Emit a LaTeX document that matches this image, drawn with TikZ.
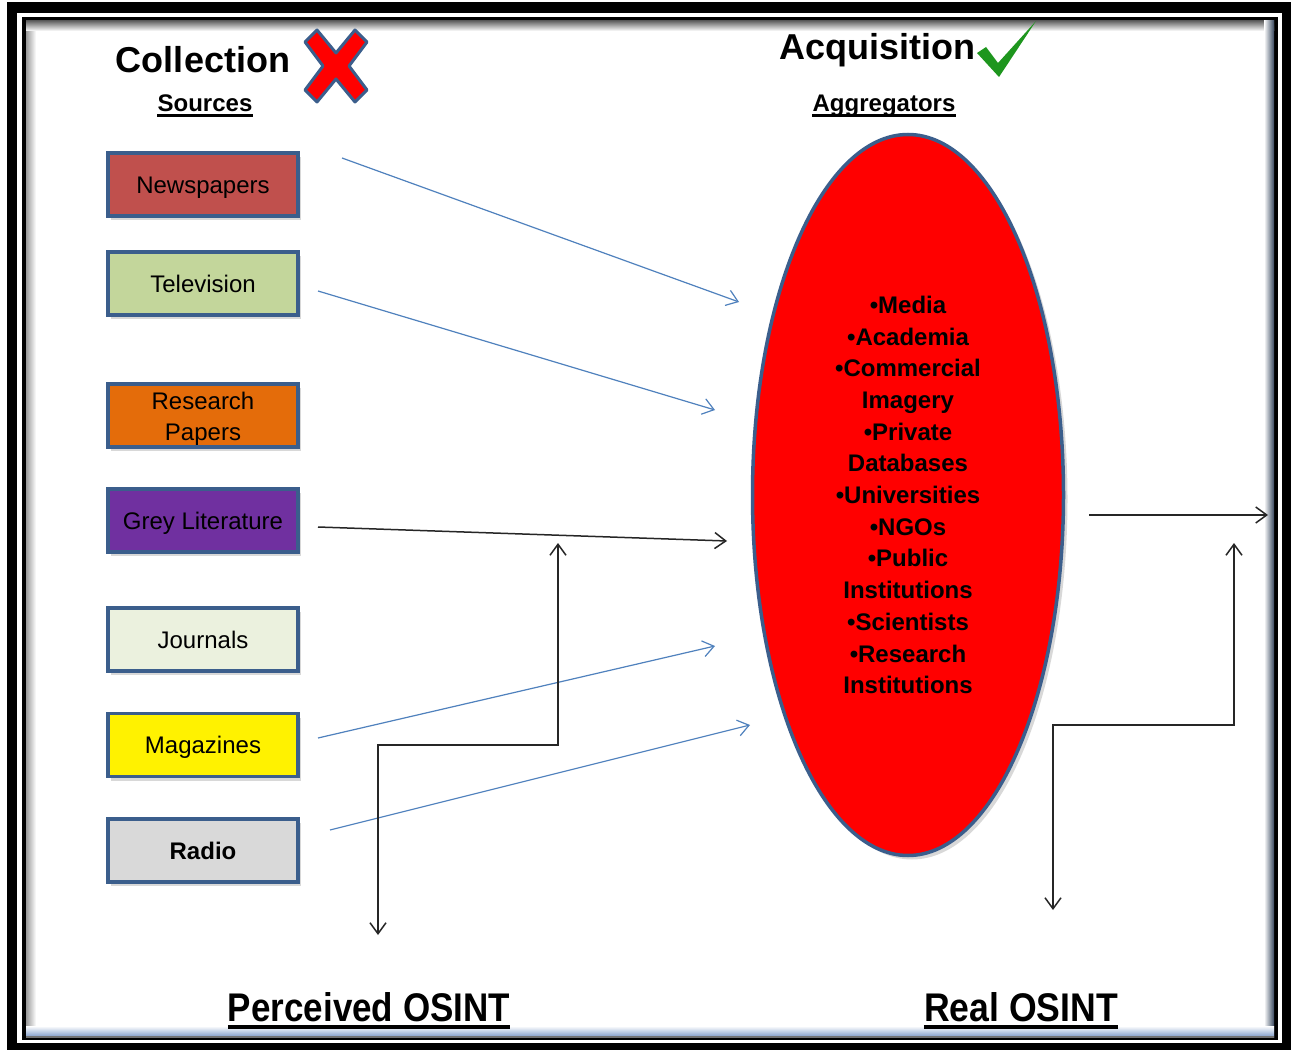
\documentclass[tikz,border=0pt]{standalone}
\usepackage{fontspec}
\setmainfont{Liberation Sans}
\usetikzlibrary{shapes.geometric,shadows,arrows.meta}

\definecolor{edgeblue}{RGB}{59,94,140}
\definecolor{flowblue}{RGB}{79,129,189}
\definecolor{newsred}{RGB}{192,80,77}
\definecolor{tvgreen}{RGB}{195,214,155}
\definecolor{paperorange}{RGB}{228,108,10}
\definecolor{greypurple}{RGB}{112,48,160}
\definecolor{journalcream}{RGB}{235,241,222}
\definecolor{radiogrey}{RGB}{217,217,217}
\definecolor{tickgreen}{RGB}{30,150,30}
\definecolor{rimslate}{RGB}{58,74,96}
\definecolor{rimblue}{RGB}{126,155,200}

\tikzset{
  srcbox/.style={draw=edgeblue, line width=3.5pt, minimum width=190pt,
    minimum height=63pt, inner sep=0pt, align=center,
    font=\fontsize{24}{31}\selectfont, text height=17.4pt, text depth=0pt,
    drop shadow={shadow xshift=3pt, shadow yshift=-4pt, opacity=0.3}},
  heading/.style={font=\bfseries\fontsize{36}{40}\selectfont, anchor=base, inner sep=0pt},
  subhead/.style={font=\bfseries\fontsize{24}{28}\selectfont, anchor=base, inner sep=0pt},
  footlabel/.style={font=\bfseries\fontsize{40}{44}\selectfont, anchor=base, inner sep=0pt},
  >={Straight Barb[length=11pt, width=16pt]},
  blueflow/.style={draw=flowblue, line width=1.2pt, ->},
  blackflow/.style={draw=black!85, line width=1.5pt, ->},
  twoway/.style={draw=black!85, line width=1.5pt, <->},
}

\begin{document}
\begin{tikzpicture}[x=1pt, y=-1pt]
\useasboundingbox (0,0) rectangle (1291,1051);

% framed page
\fill[black] (7,2) rectangle (1291,1050);
\fill[white] (17,13) rectangle (1282,1043);
\fill[black] (22,17) rectangle (1278,1040);
\fill[white] (26,21) rectangle (1274,1037);
\shade[left color=black!40, right color=white] (26,21) rectangle (36,1037);
\shade[top color=black!60, bottom color=white] (26,21) rectangle (1274,31);
\shade[left color=white, right color=rimslate] (1264,21) rectangle (1274,1037);
\shade[top color=white, bottom color=rimblue] (26,1026) rectangle (1274,1037);
\fill[black!55] (26,1036) rectangle (1274,1037.5);

% headings
\node[heading] (coll) at (203,73) {Collection};
\node[subhead] (srcs) at (205,112) {Sources};
\draw[line width=2.5pt] ([yshift=-3.5pt]srcs.base west) -- ([yshift=-3.5pt]srcs.base east);

\node[heading] (acq) at (877,60) {Acquisition};
\node[subhead] (aggr) at (884,112) {Aggregators};
\draw[line width=2.5pt] ([yshift=-3.5pt]aggr.base west) -- ([yshift=-3.5pt]aggr.base east);

% red cross
\filldraw[fill=red, draw=edgeblue, line width=3pt, line join=round, shift={(336,66)}]
  (-31,-24) -- (-19,-36) -- (0,-13) -- (19,-36) -- (31,-24) -- (13,0)
  -- (31,24) -- (19,36) -- (0,13) -- (-19,36) -- (-31,24) -- (-13,0) -- cycle;

% green tick
\fill[tickgreen] (977,53) -- (986,47) -- (998,63) -- (1036,21) -- (999,77) -- cycle;

% sources
\node[srcbox, fill=newsred] (news) at (203,184.5) {Newspapers};
\node[srcbox, fill=tvgreen] (tv) at (203,283.5) {Television};
\node[srcbox, fill=paperorange, text height=50.2pt, text depth=0pt] (papers) at (203,415.5) {Research\\Papers};
\node[srcbox, fill=greypurple] (grey) at (203,520.5) {Grey Literature};
\node[srcbox, fill=journalcream] (journals) at (203,639.5) {Journals};
\node[srcbox, fill=yellow] (mags) at (203,745) {Magazines};
\node[srcbox, fill=radiogrey, font=\bfseries\fontsize{24}{31}\selectfont] (radio) at (203,850.5) {Radio};

% aggregators
\node[ellipse, draw=edgeblue, line width=3.5pt, fill=red, minimum width=311pt,
  minimum height=721pt, inner sep=0pt, align=center,
  font=\bfseries\fontsize{24}{31.7}\selectfont,
  drop shadow={shadow xshift=4pt, shadow yshift=-4pt, opacity=0.3}] (agg) at (908,495)
  {\textbullet Media\\\textbullet Academia\\\textbullet Commercial\\Imagery\\\textbullet Private\\Databases\\\textbullet Universities\\\textbullet NGOs\\\textbullet Public\\Institutions\\\textbullet Scientists\\\textbullet Research\\Institutions};

% flow ends
\coordinate (newsA) at (342,158);   \coordinate (newsB) at (739,302);
\coordinate (tvA) at (318,291);     \coordinate (tvB) at (715,410);
\coordinate (greyA) at (318,527);   \coordinate (greyB) at (727,541);
\coordinate (magsA) at (318,738);   \coordinate (magsB) at (715,646);
\coordinate (radioA) at (330,830);  \coordinate (radioB) at (750,725);

\draw[blueflow] (newsA) -- (newsB);
\draw[blueflow] (tvA) -- (tvB);
\draw[blackflow] (greyA) -- (greyB);
\draw[blueflow] (magsA) -- (magsB);
\draw[blueflow] (radioA) -- (radioB);

% perceived path
\coordinate (perUp) at (558,543);
\coordinate (perBend) at (468,745);
\coordinate (perDown) at (378,935);
\draw[twoway] (perUp) -- (perUp |- perBend) -- (perDown |- perBend) -- (perDown);

% real path
\coordinate (outA) at (1089,515);   \coordinate (outB) at (1268,515);
\draw[blackflow] (outA) -- (outB);
\coordinate (realUp) at (1234,543);
\coordinate (realBend) at (1143,725);
\coordinate (realDown) at (1053,910);
\draw[twoway] (realUp) -- (realUp |- realBend) -- (realDown |- realBend) -- (realDown);

% footers
\node[footlabel] (perc) at (369,1021) {\scalebox{0.875}[1]{Perceived OSINT}};
\draw[line width=4pt] ([yshift=-5.5pt]perc.base west) -- ([yshift=-5.5pt]perc.base east);
\node[footlabel] (real) at (1021,1021) {\scalebox{0.89}[1]{Real OSINT}};
\draw[line width=4pt] ([yshift=-5.5pt]real.base west) -- ([yshift=-5.5pt]real.base east);
\end{tikzpicture}
\end{document}
